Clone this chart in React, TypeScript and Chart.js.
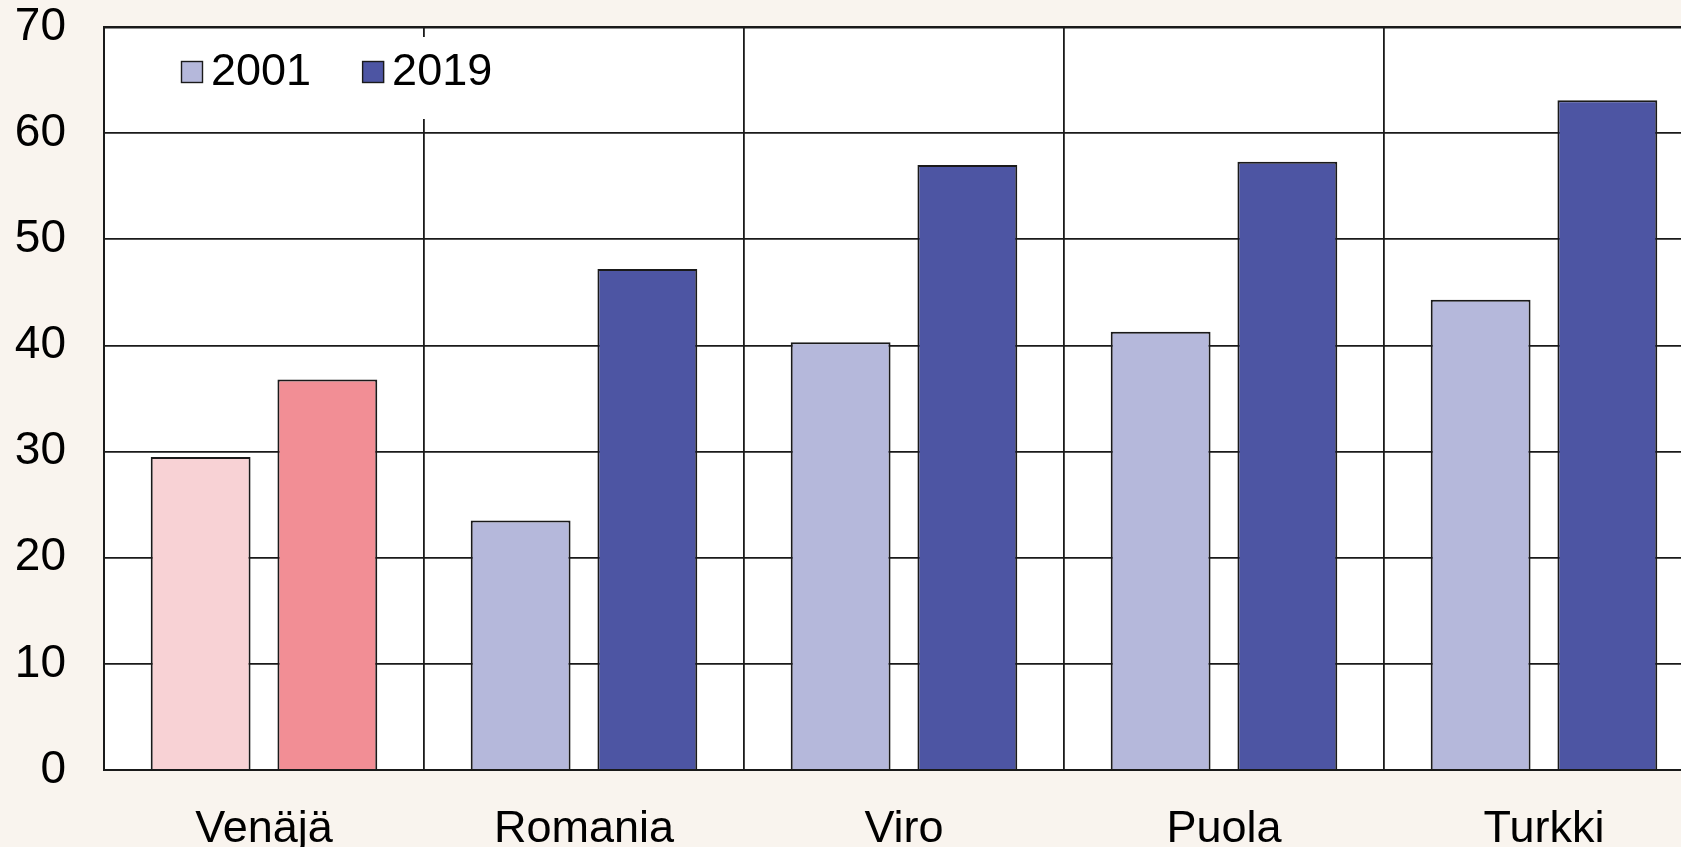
import React, { useEffect, useRef } from 'react';
import { Chart, registerables } from 'chart.js';

Chart.register(...registerables);

// ---- data ----
const categories = ['Venäjä', 'Romania', 'Viro', 'Puola', 'Turkki'];
const seriesLabels = ['2001', '2019'];
const values2001 = [29.5, 23.5, 40.3, 41.3, 44.3];
const values2019 = [36.8, 47.2, 57.0, 57.3, 63.1];
const yTickValues = [0, 10, 20, 30, 40, 50, 60, 70];
const highlightCategory = 'Venäjä';

// ---- styles ----
const FONT = '"Liberation Sans", Arial, Helvetica, sans-serif';
const PAGE_BG = '#F9F4EE';
const LIGHT = '#B5B8DB';
const DARK = '#4D55A3';
const LIGHT_HL = '#F8D2D5';
const DARK_HL = '#F28E95';
const LINE = '#1a1a1a';
const legendColors = [LIGHT, DARK];

const colors2001 = categories.map((c) => (c === highlightCategory ? LIGHT_HL : LIGHT));
const colors2019 = categories.map((c) => (c === highlightCategory ? DARK_HL : DARK));

const plotBg = {
  id: 'plotBg',
  beforeDraw(chart: any) {
    const { ctx, chartArea: a } = chart;
    ctx.save();
    ctx.fillStyle = '#ffffff';
    ctx.fillRect(a.left, a.top, a.right - a.left, a.bottom - a.top);
    ctx.restore();
  },
};

const legendBox = {
  id: 'legendBox',
  afterDraw(chart: any) {
    const { ctx, chartArea: a } = chart;
    ctx.save();
    ctx.fillStyle = '#ffffff';
    ctx.fillRect(a.left + 60, a.top + 10, 345, 82);
    ctx.font = `45px ${FONT}`;
    ctx.textBaseline = 'middle';
    ctx.textAlign = 'left';
    let x = a.left + 77;
    chart.data.datasets.forEach((ds: any, i: number) => {
      ctx.fillStyle = legendColors[i];
      ctx.fillRect(x, a.top + 34, 22, 22);
      ctx.lineWidth = 1.4;
      ctx.strokeStyle = LINE;
      ctx.strokeRect(x + 0.5, a.top + 34.5, 21, 21);
      ctx.fillStyle = '#000';
      ctx.fillText(ds.label, x + 30, a.top + 46);
      x += 30 + ctx.measureText(ds.label).width + 51;
    });
    ctx.restore();
  },
};

export default function App() {
  const ref = useRef<HTMLCanvasElement>(null);

  useEffect(() => {
    if (!ref.current) return;
    const chart = new Chart(ref.current, {
      type: 'bar',
      data: {
        labels: categories,
        datasets: [
          {
            label: seriesLabels[0],
            data: values2001,
            backgroundColor: colors2001,
            borderColor: LINE,
            borderWidth: 2,
            categoryPercentage: 0.792,
            barPercentage: 0.788,
          },
          {
            label: seriesLabels[1],
            data: values2019,
            backgroundColor: colors2019,
            borderColor: LINE,
            borderWidth: 2,
            categoryPercentage: 0.792,
            barPercentage: 0.788,
          },
        ],
      },
      options: {
        responsive: false,
        animation: false,
        layout: { padding: { left: 0, top: 27, right: 16, bottom: 0 } },
        plugins: {
          legend: { display: false },
          tooltip: { enabled: false },
          title: { display: false },
        },
        scales: {
          x: {
            grid: { color: LINE, lineWidth: 1.8, drawTicks: false, offset: true },
            border: { color: LINE, width: 2 },
            ticks: { color: '#000', font: { family: FONT, size: 45 }, padding: 33 },
            afterFit: (s: any) => {
              s.height = 77;
              s.paddingLeft = 0;
              s.paddingRight = 0;
            },
          },
          y: {
            min: yTickValues[0],
            max: yTickValues[yTickValues.length - 1],
            afterBuildTicks: (s: any) => {
              s.ticks = yTickValues.map((v) => ({ value: v }));
            },
            grid: {
              color: LINE,
              lineWidth: (c: any) => (c.tick && c.tick.value === 70 ? 2.6 : 1.8),
              drawTicks: false,
            },
            border: { color: LINE, width: 2 },
            ticks: { color: '#000', font: { family: FONT, size: 46 }, padding: 38 },
            afterFit: (s: any) => {
              s.width = 104;
              s.paddingTop = 0;
              s.paddingBottom = 0;
            },
          },
        },
      },
      plugins: [plotBg, legendBox],
    });
    return () => chart.destroy();
  }, []);

  return (
    <div
      style={{
        position: 'fixed',
        left: 0,
        top: 0,
        width: 1720,
        height: 847,
        background: PAGE_BG,
        overflow: 'hidden',
      }}
    >
      <canvas ref={ref} width={1720} height={847} style={{ display: 'block' }} />
    </div>
  );
}
